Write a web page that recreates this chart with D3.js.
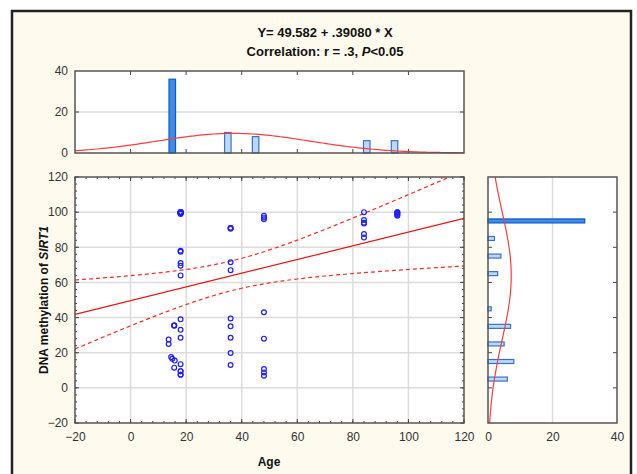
<!DOCTYPE html>
<html><head><meta charset="utf-8">
<script src="https://cdn.jsdelivr.net/npm/d3@7"></script>
<style>
body{margin:0;background:#fff;}
svg{display:block;font-family:"Liberation Sans",Arial,sans-serif;}
</style></head><body>
<svg id="c" width="637" height="474"></svg>
<script>
// ---------- data ----------
const titleLine1 = "Y= 49.582 + .39080 * X";
const intercept = 49.582;
const slope = 0.39080;
const xLabel = "Age";

const ages = [
  18,18,18,18,18,18,18,18,18,18,18,18,18,18,
  18,18,18,18,18,18,18,18,18,18,18,18,18,
  15.7,15.7,15.7,15.7, 13.7,13.7, 14.6,15,15.9,
  36,36,36,36,36,36,36,36,36,36,
  48,48,48,48,48,48,48,48,
  84,84,84,84,84,84,
  96,96,96,96,96,96
];
const methylation = [
  100,100,100,100,100,100,100,99.5,99.5,99.5,99.5,99.5,99.5,99,
  78,77.5,71,69.5,64,39,33,28.5,13.5,9.5,9.5,7.5,7.5,
  35.5,35.5,35.5,11.5, 27.5,25, 17.5,16.5,15.5,
  91,91,90.5,71.5,67,39.5,35,28.5,19.8,13,
  98,97,96,43,28,10.7,8.8,6.9,
  100,95.5,94,93.5,87.5,85.5,
  100,100,99.5,99,98.5,98
];

const ageBinCenters = [15,35,45,85,95];
const ageBinCounts = [36,10,8,6,6];
const methylBinCenters = [5,15,25,35,45,65,75,85,95];
const methylBinCounts = [6,8,5,7,1,3,4,2,30];
const binWidth = 10;

const mainTicks = [-20,0,20,40,60,80,100,120];
const histTicks = [0,20,40];

// ---------- layout ----------
const svg = d3.select("#c");
const L = 75, R = 464, T = 177, B = 423;
const x = d3.scaleLinear().domain([-20,120]).range([L,R]);
const y = d3.scaleLinear().domain([-20,120]).range([B,T]);
const topY = d3.scaleLinear().domain([0,40]).range([153,71]);
const rX = d3.scaleLinear().domain([0,40]).range([488,617]);

// outer frame
svg.append("rect").attr("x",12).attr("y",11).attr("width",619).attr("height",480)
  .attr("fill","#fffaee").attr("stroke","#222").attr("stroke-width",2.5);

// title
svg.append("text").attr("x",325).attr("y",37).attr("text-anchor","middle")
  .attr("font-weight","bold").attr("font-size",13).attr("fill","#111").text(titleLine1);
const t2 = svg.append("text").attr("x",325).attr("y",56).attr("text-anchor","middle")
  .attr("font-weight","bold").attr("font-size",13).attr("fill","#111");
t2.append("tspan").text("Correlation: r = .3, ");
t2.append("tspan").attr("font-style","italic").text("P");
t2.append("tspan").text("<0.05");

const gridCol = "#dcdcdc", frameCol = "#555", labCol = "#333";
function labelStyle(g){
  g.selectAll("text").attr("fill",labCol).attr("font-size",12);
  g.select(".domain").remove();
}

// ---------- main panel ----------
svg.append("rect").attr("x",L).attr("y",T).attr("width",R-L).attr("height",B-T).attr("fill","#fff");
// grid
svg.append("g").selectAll("line").data(mainTicks.slice(1,-1)).join("line")
  .attr("x1",d=>x(d)).attr("x2",d=>x(d)).attr("y1",T).attr("y2",B)
  .attr("stroke",gridCol).attr("stroke-width",1.5);
svg.append("g").selectAll("line").data(mainTicks.slice(1,-1)).join("line")
  .attr("y1",d=>y(d)).attr("y2",d=>y(d)).attr("x1",L).attr("x2",R)
  .attr("stroke",gridCol).attr("stroke-width",1.5);

const minor = d3.range(-20,121,4);
function tickSet(scale, vals, len, side){
  const g = svg.append("g").attr("stroke","#444").attr("stroke-width",1);
  vals.forEach(v=>{
    if(side==="bottom") g.append("line").attr("x1",scale(v)).attr("x2",scale(v)).attr("y1",B).attr("y2",B-len);
    if(side==="top") g.append("line").attr("x1",scale(v)).attr("x2",scale(v)).attr("y1",T).attr("y2",T+len);
    if(side==="left") g.append("line").attr("y1",scale(v)).attr("y2",scale(v)).attr("x1",L).attr("x2",L+len);
    if(side==="right") g.append("line").attr("y1",scale(v)).attr("y2",scale(v)).attr("x1",R).attr("x2",R-len);
  });
}
["bottom","top"].forEach(s=>{tickSet(x,minor,2,s);tickSet(x,mainTicks,4,s);});
["left","right"].forEach(s=>{tickSet(y,minor,2,s);tickSet(y,mainTicks,4,s);});

// clip
svg.append("clipPath").attr("id","clipMain").append("rect").attr("x",L).attr("y",T).attr("width",R-L).attr("height",B-T);

// regression & confidence band
const n = ages.length;
const xbar = d3.mean(ages);
const Sxx = d3.sum(ages, a=>(a-xbar)**2);
const sRes = Math.sqrt(d3.sum(ages.map((a,i)=>(methylation[i]-(intercept+slope*a))**2))/(n-2));
const tCrit = 1.998;
const xs = d3.range(-20,120.01,1);
const half = a => tCrit*sRes*Math.sqrt(1/n + (a-xbar)**2/Sxx);
const lineGen = d3.line().x(d=>x(d[0])).y(d=>y(d[1]));
const gm = svg.append("g").attr("clip-path","url(#clipMain)");
gm.append("path").attr("d",lineGen([[-20,intercept+slope*-20],[120,intercept+slope*120]]))
  .attr("stroke","#ee1111").attr("stroke-width",1.2).attr("fill","none");
[1,-1].forEach(sg=>{
  gm.append("path").attr("d",lineGen(xs.map(a=>[a,intercept+slope*a+sg*half(a)])))
    .attr("stroke","#ff2a2a").attr("stroke-width",1.2).attr("fill","none").attr("stroke-dasharray","4,3");
});

// points
gm.append("g").selectAll("circle").data(ages).join("circle")
  .attr("cx",d=>x(d)).attr("cy",(d,i)=>y(methylation[i])).attr("r",2.4)
  .attr("fill","none").attr("stroke","#2020ff").attr("stroke-width",1.2);

svg.append("rect").attr("x",L).attr("y",T).attr("width",R-L).attr("height",B-T)
  .attr("fill","none").attr("stroke",frameCol).attr("stroke-width",1.5);

// axis labels
const ax = svg.append("g").attr("transform",`translate(0,${B})`)
  .call(d3.axisBottom(x).tickValues(mainTicks).tickSize(0).tickPadding(9));
labelStyle(ax);
const ay = svg.append("g").attr("transform",`translate(${L},0)`)
  .call(d3.axisLeft(y).tickValues(mainTicks).tickSize(0).tickPadding(7));
labelStyle(ay);

svg.append("text").attr("x",269).attr("y",466).attr("text-anchor","middle")
  .attr("font-weight","bold").attr("font-size",12).attr("fill","#111").text(xLabel);
const yt = svg.append("text").attr("transform",`translate(48,${(T+B)/2}) rotate(-90)`)
  .attr("text-anchor","middle").attr("font-weight","bold").attr("font-size",12).attr("fill","#111");
yt.append("tspan").text("DNA methylation of ");
yt.append("tspan").attr("font-style","italic").text("SIRT1");

// ---------- top histogram ----------
const hT = 71, hB = 153;
svg.append("rect").attr("x",L).attr("y",hT).attr("width",R-L).attr("height",hB-hT).attr("fill","#fff");
svg.append("line").attr("x1",L).attr("x2",R).attr("y1",topY(20)).attr("y2",topY(20))
  .attr("stroke",gridCol).attr("stroke-width",1.5);
const tg = svg.append("g").attr("stroke","#444");
mainTicks.slice(1,-1).forEach(v=>{
  tg.append("line").attr("x1",x(v)).attr("x2",x(v)).attr("y1",hT).attr("y2",hT+4);
  tg.append("line").attr("x1",x(v)).attr("x2",x(v)).attr("y1",hB).attr("y2",hB-4);
});
histTicks.slice(1,-1).forEach(v=>{
  tg.append("line").attr("x1",L).attr("x2",L+4).attr("y1",topY(v)).attr("y2",topY(v));
  tg.append("line").attr("x1",R).attr("x2",R-4).attr("y1",topY(v)).attr("y2",topY(v));
});
const bw = 6.5;
svg.append("g").selectAll("rect").data(ageBinCenters).join("rect")
  .attr("x",d=>x(d)-bw/2).attr("width",bw)
  .attr("y",(d,i)=>topY(ageBinCounts[i])).attr("height",(d,i)=>topY(0)-topY(ageBinCounts[i]))
  .attr("fill",(d,i)=>ageBinCounts[i]>=20?"#3a8de8":"#bcdaf7")
  .attr("stroke",(d,i)=>ageBinCounts[i]>=20?"#1258c8":"#3a6fd0").attr("stroke-width",1.2);
// normal fit on age
const aMean = d3.mean(ages), aSd = d3.deviation(ages);
const normTop = a => n*binWidth/(aSd*Math.sqrt(2*Math.PI))*Math.exp(-0.5*((a-aMean)/aSd)**2);
svg.append("path").attr("d",d3.line().x(d=>x(d)).y(d=>topY(normTop(d)))(xs))
  .attr("stroke","#ff3c3c").attr("stroke-width",1.2).attr("fill","none");
svg.append("rect").attr("x",L).attr("y",hT).attr("width",R-L).attr("height",hB-hT)
  .attr("fill","none").attr("stroke",frameCol).attr("stroke-width",1.5);
const tay = svg.append("g").attr("transform",`translate(${L},0)`)
  .call(d3.axisLeft(topY).tickValues(histTicks).tickSize(0).tickPadding(7));
labelStyle(tay);

// ---------- right histogram ----------
const rL = 488, rR = 617;
svg.append("rect").attr("x",rL).attr("y",T).attr("width",rR-rL).attr("height",B-T).attr("fill","#fff");
svg.append("line").attr("x1",rX(20)).attr("x2",rX(20)).attr("y1",T).attr("y2",B)
  .attr("stroke",gridCol).attr("stroke-width",1.5);
const rg = svg.append("g").attr("stroke","#444");
mainTicks.slice(1,-1).forEach(v=>{
  rg.append("line").attr("x1",rL).attr("x2",rL+4).attr("y1",y(v)).attr("y2",y(v));
  rg.append("line").attr("x1",rR).attr("x2",rR-4).attr("y1",y(v)).attr("y2",y(v));
});
const bh = 4;
svg.append("g").selectAll("rect").data(methylBinCenters).join("rect")
  .attr("y",d=>y(d)-bh/2).attr("height",bh)
  .attr("x",rX(0)).attr("width",(d,i)=>rX(methylBinCounts[i])-rX(0))
  .attr("fill",(d,i)=>methylBinCounts[i]>=20?"#3a8de8":"#bcdaf7")
  .attr("stroke",(d,i)=>methylBinCounts[i]>=20?"#1258c8":"#3a6fd0").attr("stroke-width",1.2);
const mMean = d3.mean(methylation), mSd = d3.deviation(methylation);
const normR = v => n*binWidth/(mSd*Math.sqrt(2*Math.PI))*Math.exp(-0.5*((v-mMean)/mSd)**2);
svg.append("path").attr("d",d3.line().x(d=>rX(normR(d))).y(d=>y(d))(xs))
  .attr("stroke","#ff3c3c").attr("stroke-width",1.2).attr("fill","none");
svg.append("rect").attr("x",rL).attr("y",T).attr("width",rR-rL).attr("height",B-T)
  .attr("fill","none").attr("stroke",frameCol).attr("stroke-width",1.5);
const rax = svg.append("g").attr("transform",`translate(0,${B})`)
  .call(d3.axisBottom(rX).tickValues(histTicks).tickSize(0).tickPadding(9));
labelStyle(rax);
</script>
</body></html>
